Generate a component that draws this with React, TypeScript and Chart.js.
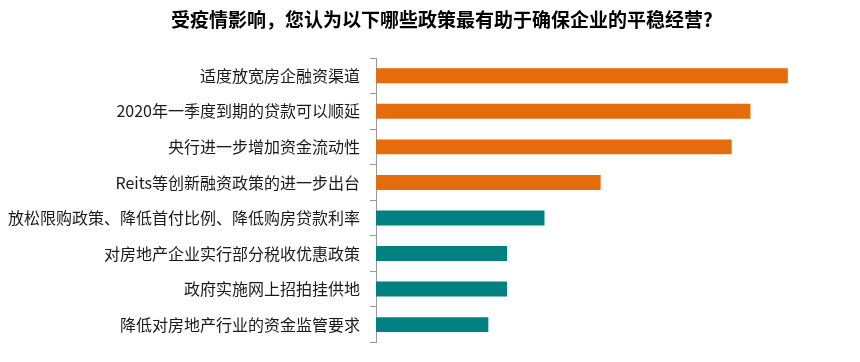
import React, { useEffect, useRef } from "react";
import { Chart, registerables } from "chart.js";

Chart.register(...registerables);

const TITLE = "受疫情影响，您认为以下哪些政策最有助于确保企业的平稳经营?";

const categories = [
  "适度放宽房企融资渠道",
  "2020年一季度到期的贷款可以顺延",
  "央行进一步增加资金流动性",
  "Reits等创新融资政策的进一步出台",
  "放松限购政策、降低首付比例、降低购房贷款利率",
  "对房地产企业实行部分税收优惠政策",
  "政府实施网上招拍挂供地",
  "降低对房地产行业的资金监管要求",
];

const values = [44, 40, 38, 24, 18, 14, 14, 12];

// group of each bar: "fund" = financing measures, "policy" = policy measures
const groups = ["fund", "fund", "fund", "fund", "policy", "policy", "policy", "policy"];

const ORANGE = "#E46C0A";
const TEAL = "#008080";

export default function App() {
  const ref = useRef<HTMLCanvasElement | null>(null);

  useEffect(() => {
    document.body.style.margin = "0";
    const canvas = ref.current;
    if (!canvas) return;

    const titlePlugin = {
      id: "customTitle",
      afterDraw(chart: any) {
        const ctx = chart.ctx;
        ctx.save();
        ctx.font = "bold 19px 'Noto Sans CJK SC', sans-serif";
        ctx.fillStyle = "#000000";
        ctx.textAlign = "center";
        ctx.textBaseline = "middle";
        ctx.fillText(TITLE, 442, 20);
        ctx.restore();
      },
    };

    const chart = new Chart(canvas, {
      type: "bar",
      data: {
        labels: categories,
        datasets: [
          {
            data: values,
            backgroundColor: groups.map((g) => (g === "fund" ? ORANGE : TEAL)),
            borderWidth: 0,
            barPercentage: 0.42,
            categoryPercentage: 1,
          },
        ],
      },
      options: {
        indexAxis: "y",
        animation: false,
        responsive: false,
        maintainAspectRatio: false,
        layout: { padding: { top: 58, bottom: 16, right: 16, left: 0 } },
        plugins: {
          legend: { display: false },
          title: { display: false },
          tooltip: { enabled: false },
        },
        scales: {
          x: {
            display: false,
            min: 0,
            max: 50,
          },
          y: {
            afterFit(scale: any) {
              scale.width = 376;
            },
            border: { display: true, color: "#999999", width: 1 },
            grid: {
              display: true,
              drawOnChartArea: false,
              drawTicks: true,
              tickLength: 6,
              color: "#999999",
              offset: true,
            },
            ticks: {
              padding: 10,
              color: "#1a1a1a",
              font: { family: "'Noto Sans CJK SC', sans-serif", size: 16 },
            },
          },
        },
      },
      plugins: [titlePlugin],
    });

    return () => chart.destroy();
  }, []);

  return (
    <div style={{ width: 860, height: 362 }}>
      <canvas ref={ref} width={860} height={362} style={{ display: "block" }} />
    </div>
  );
}
